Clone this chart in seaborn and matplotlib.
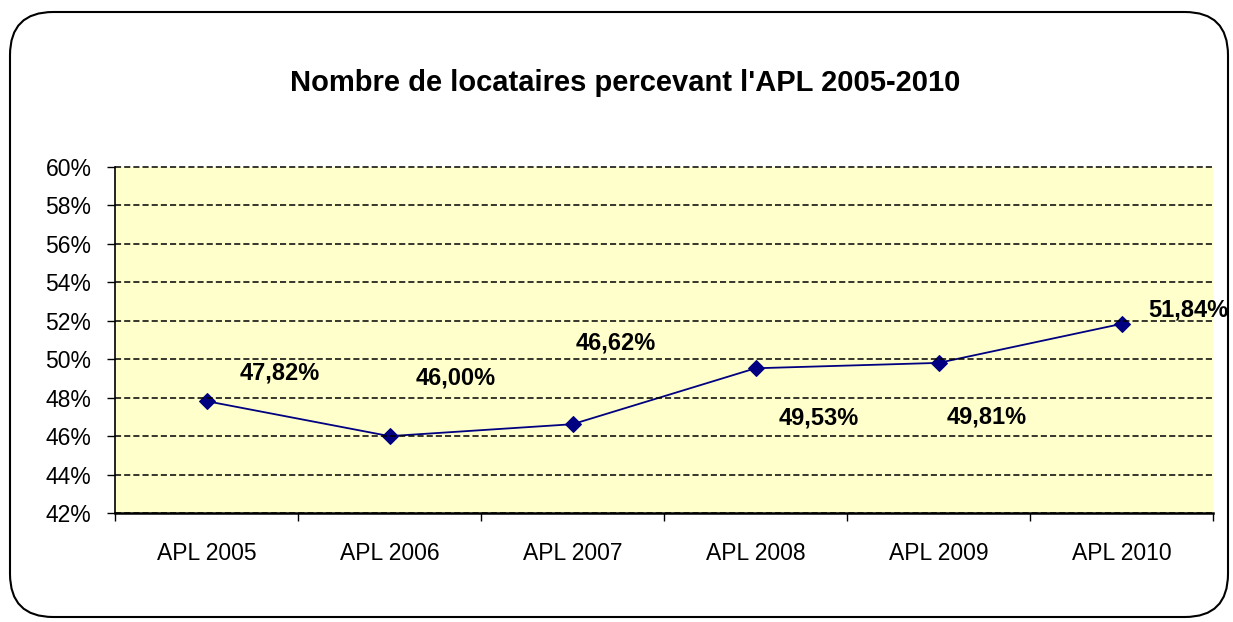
import seaborn as sns
import numpy as np
import pandas as pd
from matplotlib import pyplot as plt
from matplotlib.patches import FancyBboxPatch
from matplotlib.ticker import FixedLocator, NullFormatter

years = ['APL 2005', 'APL 2006', 'APL 2007', 'APL 2008', 'APL 2009', 'APL 2010']
share = [47.82, 46.00, 46.62, 49.53, 49.81, 51.84]
labels = ['47,82%', '46,00%', '46,62%', '49,53%', '49,81%', '51,84%']
# label offsets in pixels (dx, dy) relative to each point
offsets = [(73, 28), (66, 58), (43, 81), (63, -50), (48, -54), (67, 14)]

sns.set_style('white')
plt.rcParams['font.family'] = ['Liberation Sans', 'DejaVu Sans']
plt.rcParams['text.color'] = 'black'
plt.rcParams['xtick.color'] = 'black'
plt.rcParams['ytick.color'] = 'black'

df = pd.DataFrame({'annee': years, 'part': share})

fig = plt.figure(figsize=(12.33, 6.22), dpi=100)
ax = fig.add_axes([0.0933, 0.1752, 0.8905, 0.5563])

# rounded frame around the chart
frame = FancyBboxPatch((10 / 1233, 5 / 622), 1218 / 1233, 605 / 622,
                       boxstyle='round,pad=0,rounding_size=0.035',
                       transform=fig.transFigure, fill=False,
                       edgecolor='black', linewidth=1.5, mutation_aspect=1233 / 622)
fig.patches.append(frame)

ax.set_facecolor('#FFFFCC')
sns.lineplot(data=df, x='annee', y='part', ax=ax, color='#000080',
             marker='D', markersize=8, markeredgecolor='#000080', linewidth=1.3)

for i, (lab, (dx, dy)) in enumerate(zip(labels, offsets)):
    ax.annotate(lab, (i, share[i]), xytext=(dx, dy), textcoords='offset pixels',
                ha='center', va='center', fontsize=17, fontweight='bold', color='black')

ax.set_ylim(42, 60)
ax.set_xlim(-0.5, len(years) - 0.5)
ax.set_yticks(np.arange(42, 61, 2))
ax.set_yticklabels([f'{v}%' for v in range(42, 61, 2)], fontsize=16.5)
ax.yaxis.grid(True, color='black', linestyle=(0, (4, 2)), linewidth=1.1)
ax.set_axisbelow(False)
for gl in ax.yaxis.get_gridlines():
    gl.set_clip_on(False)

ax.set_xticks(range(len(years)))
ax.set_xticklabels(years, fontsize=16.5)
ax.tick_params(axis='x', which='major', bottom=True, length=0, pad=21)
ax.xaxis.set_minor_locator(FixedLocator(np.arange(-0.5, len(years), 1.0)))
ax.xaxis.set_minor_formatter(NullFormatter())
ax.tick_params(axis='x', which='minor', bottom=True, length=6, width=1, direction='out')
ax.tick_params(axis='y', left=True, length=6, width=1, direction='out', pad=11)

ax.set_xlabel('')
ax.set_ylabel('')
for s in ['top', 'right']:
    ax.spines[s].set_visible(False)
ax.spines['left'].set_color('black')
ax.spines['left'].set_linewidth(1.2)
ax.spines['bottom'].set_color('black')
ax.spines['bottom'].set_linewidth(1.8)

fig.text(0.507, 0.866, "Nombre de locataires percevant l'APL 2005-2010",
         ha='center', va='center', fontsize=21, fontweight='bold')

fig.savefig('out.png', dpi=100)
